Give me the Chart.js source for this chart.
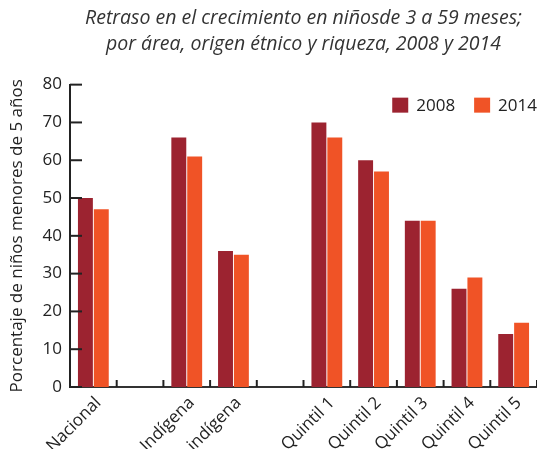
<!DOCTYPE html>
<html>
<head>
<meta charset="utf-8">
<script src="https://cdn.jsdelivr.net/npm/chart.js@4"></script>
<style>
    body { margin: 0; background: #fff; }
    canvas { display: block; }
</style>
</head>
<body>
<canvas id="stuntingChart" width="537" height="449"></canvas>
<script>
// --- Data ---
const categories = ['Nacional', '', 'Indígena', 'No indígena', '', 'Quintil 1', 'Quintil 2', 'Quintil 3', 'Quintil 4', 'Quintil 5'];
const values2008 = [50, null, 66, 36, null, 70, 60, 44, 26, 14];
const values2014 = [47, null, 61, 35, null, 66, 57, 44, 29, 17];
const yTicks = [0, 10, 20, 30, 40, 50, 60, 70, 80];

const COLOR_2008 = '#9c2330';
const COLOR_2014 = '#f05326';
const TEXT_COLOR = '#222';
const FONT = '"Open Sans", Lato, sans-serif';

// Short tick marks drawn inward from both axes
const inwardTicks = {
    id: 'inwardTicks',
    afterDraw(chart) {
        const { ctx, scales: { x, y } } = chart;
        ctx.save();
        ctx.strokeStyle = '#222';
        ctx.lineWidth = 2;
        // y ticks point right into the plot
        yTicks.forEach(v => {
            const py = y.getPixelForValue(v);
            ctx.beginPath();
            ctx.moveTo(x.left, py);
            ctx.lineTo(x.left + 12, py);
            ctx.stroke();
        });
        // x ticks sit on category boundaries
        for (let i = 1; i <= categories.length; i++) {
            const px = i < categories.length
                ? (x.getPixelForValue(i - 1) + x.getPixelForValue(i)) / 2
                : x.right;
            ctx.beginPath();
            ctx.moveTo(px, y.bottom);
            ctx.lineTo(px, y.bottom - 7);
            ctx.stroke();
        }
        ctx.restore();
    }
};

// Horizontal legend in the top right corner of the plot area
const cornerLegend = {
    id: 'cornerLegend',
    afterDraw(chart) {
        const { ctx, chartArea } = chart;
        const boxW = 16, boxH = 15, textGap = 8, itemGap = 19;
        const top = chartArea.top + 13;
        ctx.save();
        ctx.font = '17px ' + FONT;
        ctx.textBaseline = 'middle';
        ctx.textAlign = 'left';
        let right = chartArea.right;
        const sets = chart.data.datasets.slice().reverse();
        sets.forEach(ds => {
            const w = ctx.measureText(ds.label).width;
            const textX = right - w;
            const boxX = textX - textGap - boxW;
            ctx.fillStyle = ds.backgroundColor;
            ctx.fillRect(boxX, top, boxW, boxH);
            ctx.fillStyle = TEXT_COLOR;
            ctx.fillText(ds.label, textX, top + boxH / 2 + 1);
            right = boxX - itemGap;
        });
        ctx.restore();
    }
};

new Chart(document.getElementById('stuntingChart'), {
    type: 'bar',
    data: {
        labels: categories,
        datasets: [
            { label: '2008', data: values2008, backgroundColor: COLOR_2008 },
            { label: '2014', data: values2014, backgroundColor: COLOR_2014 }
        ]
    },
    options: {
        responsive: false,
        animation: false,
        datasets: {
            bar: { categoryPercentage: 0.68, barPercentage: 0.94 }
        },
        layout: { padding: 0 },
        plugins: {
            title: {
                display: true,
                fullSize: false,
                text: ['Retraso en el crecimiento en niñosde 3 a 59 meses;', 'por área, origen étnico y riqueza, 2008 y 2014'],
                color: '#333',
                font: { family: FONT, size: 19.5, style: 'italic', weight: 'normal', lineHeight: 1.35 },
                padding: { top: 5, bottom: 27 }
            },
            legend: { display: false },
            tooltip: { enabled: false }
        },
        scales: {
            x: {
                grid: { display: false, drawTicks: false },
                border: { display: true, color: '#333', width: 2 },
                ticks: {
                    autoSkip: false,
                    maxRotation: 45,
                    minRotation: 45,
                    padding: 6,
                    labelOffset: 5,
                    color: TEXT_COLOR,
                    font: { family: FONT, size: 17 }
                },
                afterFit(scale) { scale.height = 62; }
            },
            y: {
                min: 0,
                max: 80,
                grid: { display: false, drawTicks: false },
                border: { display: true, color: '#222', width: 2 },
                ticks: {
                    stepSize: 10,
                    padding: 8,
                    color: TEXT_COLOR,
                    font: { family: FONT, size: 17 }
                },
                title: {
                    display: true,
                    text: 'Porcentaje de niños menores de 5 años',
                    color: TEXT_COLOR,
                    font: { family: FONT, size: 17 },
                    padding: { top: 7, bottom: 0 }
                },
                afterFit(scale) { scale.width = 70; }
            }
        }
    },
    plugins: [inwardTicks, cornerLegend]
});
</script>
</body>
</html>
